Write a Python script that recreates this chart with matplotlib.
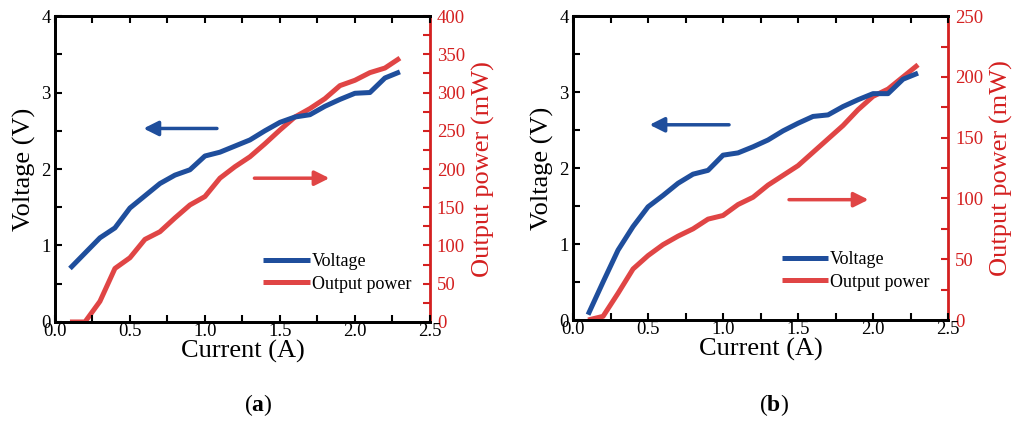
import matplotlib
matplotlib.use("Agg")
import matplotlib.pyplot as plt
from matplotlib.ticker import MultipleLocator

plt.rcParams['font.family'] = ['Liberation Serif', 'DejaVu Serif']
plt.rcParams['mathtext.fontset'] = 'custom'
plt.rcParams['mathtext.rm'] = 'Liberation Serif'
plt.rcParams['mathtext.bf'] = 'Liberation Serif:bold'

current = [0.1, 0.2, 0.3, 0.4, 0.5, 0.6, 0.7, 0.8, 0.9, 1.0, 1.1, 1.2,
           1.3, 1.4, 1.5, 1.6, 1.7, 1.8, 1.9, 2.0, 2.1, 2.2, 2.3]

voltage_a = [0.70, 0.90, 1.10, 1.23, 1.49, 1.65, 1.81, 1.92, 1.99, 2.17, 2.22, 2.30,
             2.38, 2.50, 2.61, 2.68, 2.71, 2.82, 2.91, 2.99, 3.00, 3.19, 3.27]
power_a = [0, 0, 27, 70, 84, 108, 118, 136, 153, 164, 188, 203,
           216, 233, 251, 268, 279, 292, 309, 316, 326, 332, 345]

voltage_b = [0.07, 0.50, 0.92, 1.23, 1.49, 1.64, 1.80, 1.92, 1.97, 2.17, 2.20, 2.28,
             2.37, 2.49, 2.59, 2.68, 2.70, 2.81, 2.90, 2.98, 2.98, 3.17, 3.25]
power_b = [0, 3, 22, 42, 53, 62, 69, 75, 83, 86, 95, 101,
           111, 119, 127, 138, 149, 160, 173, 184, 190, 200, 210]

panels = ['a', 'b']
power_max = [400, 250]

BLUE = '#1f4e9c'
RED = '#e04545'
SPINE_RED = '#d42020'

fig = plt.figure(figsize=(10.29, 4.22), dpi=100)
rects = [[0.0534, 0.237, 0.3644, 0.725], [0.5569, 0.2417, 0.3644, 0.720]]
volts = [voltage_a, voltage_b]
powers = [power_a, power_b]
blue_arrows = [(1.08, 0.59, 2.53), (1.04, 0.51, 2.57)]
red_arrows = [(1.33, 1.83, 188), (1.44, 1.97, 99)]
caption_x = [0.251, 0.752]

for i in range(2):
    ax = fig.add_axes(rects[i])
    ax2 = ax.twinx()
    l1, = ax.plot(current, volts[i], color=BLUE, lw=3.6, label='Voltage', solid_capstyle='butt')
    l2, = ax2.plot(current, powers[i], color=RED, lw=3.6, label='Output power', solid_capstyle='butt')
    ax.set_xlim(0, 2.5)
    ax.set_ylim(0, 4)
    ax2.set_ylim(0, power_max[i])
    ax.xaxis.set_minor_locator(MultipleLocator(0.25))
    ax.yaxis.set_major_locator(MultipleLocator(1))
    ax.yaxis.set_minor_locator(MultipleLocator(0.5))
    ax2.yaxis.set_major_locator(MultipleLocator(50))
    ax2.yaxis.set_minor_locator(MultipleLocator(25))
    ax.set_xticks([0, 0.5, 1.0, 1.5, 2.0, 2.5])
    ax.set_xticklabels(['0.0', '0.5', '1.0', '1.5', '2.0', '2.5'])
    ax.tick_params(axis='both', which='both', direction='in', top=True,
                   labelsize=13.5, width=1.5, length=5)
    ax.tick_params(axis='x', pad=1)
    ax.tick_params(axis='y', pad=3)
    ax2.tick_params(axis='y', which='both', direction='in', colors=SPINE_RED,
                    labelsize=13.5, width=1.5, length=5, pad=5)
    for s in ['left', 'bottom', 'top']:
        ax.spines[s].set_linewidth(2)
        ax2.spines[s].set_linewidth(2)
    ax2.spines['right'].set_color(SPINE_RED)
    ax2.spines['right'].set_linewidth(2)
    ax.spines['right'].set_visible(False)
    ax.set_xlabel('Current (A)', fontsize=19, labelpad=0)
    ax.set_ylabel('Voltage (V)', fontsize=19, labelpad=4)
    ax2.set_ylabel('Output power (mW)', fontsize=19, color=SPINE_RED, labelpad=5)
    ax2.legend([l1, l2], ['Voltage', 'Output power'], loc='lower right',
               frameon=False, fontsize=13, handlelength=2.6, handletextpad=0.1,
               borderaxespad=0.3, labelspacing=0.3, bbox_to_anchor=(0.985, 0.055))
    bt, bh, by = blue_arrows[i]
    ax.annotate('', xy=(bh, by), xytext=(bt, by),
                arrowprops=dict(arrowstyle='-|>', color=BLUE, lw=2.5,
                                mutation_scale=22, shrinkA=0, shrinkB=0))
    rt, rh, ry = red_arrows[i]
    ax2.annotate('', xy=(rh, ry), xytext=(rt, ry),
                 arrowprops=dict(arrowstyle='-|>', color=RED, lw=2.5,
                                 mutation_scale=22, shrinkA=0, shrinkB=0))
    ax.set_zorder(ax2.get_zorder() + 1)
    ax.patch.set_visible(False)
    fig.text(caption_x[i], 0.04, r'($\mathbf{%s}$)' % panels[i], fontsize=17,
             ha='center', va='center')

fig.savefig('out.png', dpi=100)
